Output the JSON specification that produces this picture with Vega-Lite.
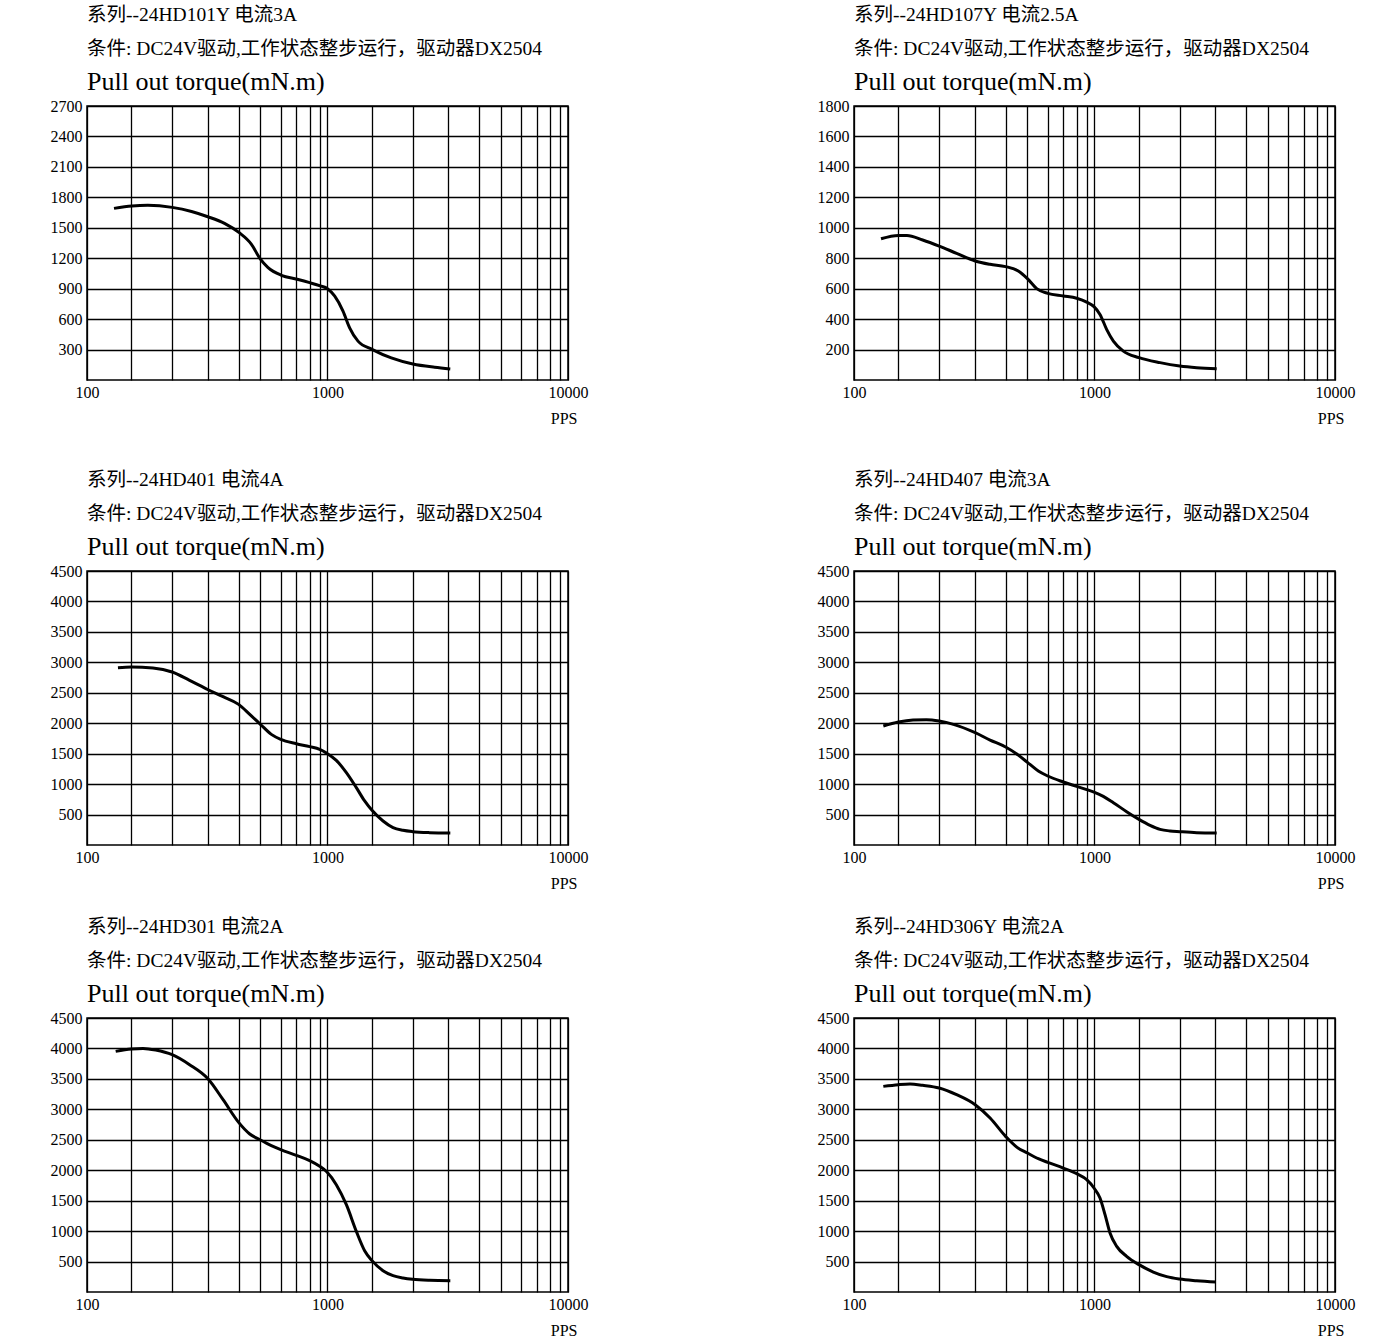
{
  "$schema": "https://vega.github.io/schema/vega-lite/v6.json",
  "background": "white",
  "padding": {"left": 49, "top": 3, "right": 5, "bottom": 0},
  "bounds": "flush",
  "columns": 2,
  "spacing": {"row": 0, "column": 286},
  "datasets": {
    "p1": [
      {"pps": 129.5, "torque": 1691}, {"pps": 153.8, "torque": 1715}, {"pps": 179, "torque": 1721}, {"pps": 226, "torque": 1701},
      {"pps": 272, "torque": 1661}, {"pps": 318, "torque": 1609}, {"pps": 373, "torque": 1543}, {"pps": 428, "torque": 1454},
      {"pps": 482, "torque": 1339}, {"pps": 526, "torque": 1191}, {"pps": 566, "torque": 1108}, {"pps": 643, "torque": 1032},
      {"pps": 748, "torque": 993}, {"pps": 843, "torque": 959}, {"pps": 933, "torque": 927}, {"pps": 1000, "torque": 900},
      {"pps": 1070, "torque": 828}, {"pps": 1160, "torque": 679}, {"pps": 1236, "torque": 514}, {"pps": 1339, "torque": 383},
      {"pps": 1538, "torque": 300}, {"pps": 1842, "torque": 218}, {"pps": 2265, "torque": 158}, {"pps": 2788, "torque": 126},
      {"pps": 3240, "torque": 109}
    ],
    "p2": [
      {"pps": 129.5, "torque": 928}, {"pps": 153, "torque": 950}, {"pps": 166, "torque": 950}, {"pps": 193, "torque": 920},
      {"pps": 226, "torque": 880}, {"pps": 267, "torque": 832}, {"pps": 319, "torque": 782}, {"pps": 368, "torque": 760},
      {"pps": 427, "torque": 745}, {"pps": 482, "torque": 716}, {"pps": 526, "torque": 666}, {"pps": 575, "torque": 600},
      {"pps": 639, "torque": 569}, {"pps": 742, "torque": 552}, {"pps": 843, "torque": 537}, {"pps": 928, "torque": 512},
      {"pps": 995, "torque": 482}, {"pps": 1054, "torque": 431}, {"pps": 1123, "torque": 333}, {"pps": 1198, "torque": 256},
      {"pps": 1318, "torque": 190}, {"pps": 1531, "torque": 147}, {"pps": 1873, "torque": 114}, {"pps": 2261, "torque": 92},
      {"pps": 2660, "torque": 81}, {"pps": 3221, "torque": 74}
    ],
    "p3": [
      {"pps": 134.5, "torque": 2912}, {"pps": 153, "torque": 2923}, {"pps": 188, "torque": 2907}, {"pps": 226, "torque": 2841},
      {"pps": 267, "torque": 2704}, {"pps": 319, "torque": 2550}, {"pps": 368, "torque": 2436}, {"pps": 427, "torque": 2310},
      {"pps": 475, "torque": 2146}, {"pps": 526, "torque": 1982}, {"pps": 584, "torque": 1817}, {"pps": 639, "torque": 1735},
      {"pps": 742, "torque": 1664}, {"pps": 843, "torque": 1615}, {"pps": 928, "torque": 1571}, {"pps": 995, "torque": 1505},
      {"pps": 1088, "torque": 1390}, {"pps": 1198, "torque": 1188}, {"pps": 1318, "torque": 942}, {"pps": 1427, "torque": 723},
      {"pps": 1531, "torque": 569}, {"pps": 1702, "torque": 394}, {"pps": 1873, "torque": 285}, {"pps": 2060, "torque": 241},
      {"pps": 2261, "torque": 219}, {"pps": 2660, "torque": 203}, {"pps": 3241, "torque": 197}
    ],
    "p4": [
      {"pps": 132.4, "torque": 1954}, {"pps": 153, "torque": 2020}, {"pps": 176, "torque": 2053}, {"pps": 200, "torque": 2058},
      {"pps": 226, "torque": 2036}, {"pps": 259, "torque": 1982}, {"pps": 319, "torque": 1845}, {"pps": 368, "torque": 1724},
      {"pps": 427, "torque": 1610}, {"pps": 475, "torque": 1495}, {"pps": 526, "torque": 1358}, {"pps": 584, "torque": 1215},
      {"pps": 639, "torque": 1133}, {"pps": 742, "torque": 1035}, {"pps": 843, "torque": 963}, {"pps": 928, "torque": 909},
      {"pps": 995, "torque": 870}, {"pps": 1088, "torque": 799}, {"pps": 1198, "torque": 695}, {"pps": 1360, "torque": 547},
      {"pps": 1531, "torque": 421}, {"pps": 1702, "torque": 323}, {"pps": 1873, "torque": 257}, {"pps": 2060, "torque": 230},
      {"pps": 2261, "torque": 219}, {"pps": 2660, "torque": 203}, {"pps": 3221, "torque": 197}
    ],
    "p5": [
      {"pps": 131.6, "torque": 3952}, {"pps": 153, "torque": 3991}, {"pps": 171, "torque": 4001}, {"pps": 193, "torque": 3974},
      {"pps": 226, "torque": 3897}, {"pps": 267, "torque": 3733}, {"pps": 319, "torque": 3498}, {"pps": 368, "torque": 3158},
      {"pps": 427, "torque": 2786}, {"pps": 475, "torque": 2595}, {"pps": 526, "torque": 2496}, {"pps": 584, "torque": 2403},
      {"pps": 639, "torque": 2337}, {"pps": 742, "torque": 2244}, {"pps": 843, "torque": 2157}, {"pps": 928, "torque": 2064},
      {"pps": 995, "torque": 1971}, {"pps": 1088, "torque": 1763}, {"pps": 1198, "torque": 1434}, {"pps": 1318, "torque": 996},
      {"pps": 1427, "torque": 679}, {"pps": 1531, "torque": 515}, {"pps": 1702, "torque": 350}, {"pps": 1873, "torque": 268},
      {"pps": 2060, "torque": 230}, {"pps": 2261, "torque": 208}, {"pps": 2660, "torque": 192}, {"pps": 3241, "torque": 186}
    ],
    "p6": [
      {"pps": 132.4, "torque": 3377}, {"pps": 153, "torque": 3405}, {"pps": 171, "torque": 3416}, {"pps": 193, "torque": 3394},
      {"pps": 226, "torque": 3350}, {"pps": 267, "torque": 3241}, {"pps": 319, "torque": 3076}, {"pps": 368, "torque": 2857},
      {"pps": 427, "torque": 2556}, {"pps": 475, "torque": 2380}, {"pps": 526, "torque": 2283}, {"pps": 584, "torque": 2190},
      {"pps": 639, "torque": 2129}, {"pps": 742, "torque": 2036}, {"pps": 843, "torque": 1943}, {"pps": 928, "torque": 1845},
      {"pps": 995, "torque": 1708}, {"pps": 1054, "torque": 1544}, {"pps": 1106, "torque": 1270}, {"pps": 1160, "torque": 969},
      {"pps": 1237, "torque": 750}, {"pps": 1360, "torque": 586}, {"pps": 1531, "torque": 449}, {"pps": 1756, "torque": 328},
      {"pps": 1996, "torque": 252}, {"pps": 2261, "torque": 213}, {"pps": 2660, "torque": 186}, {"pps": 3200, "torque": 164}
    ],
    "blank": [{"k": 1}]
  },
  "concat": [
    {
      "width": 481, "height": 274,
      "title": {"text": ["系列--24HD101Y 电流3A", "条件: DC24V驱动,工作状态整步运行，驱动器DX2504"], "subtitle": "Pull out torque(mN.m)"},
      "data": {"name": "p1"},
      "mark": {"type": "line", "interpolate": "monotone", "color": "#000", "strokeWidth": 3},
      "encoding": {
        "x": {"field": "pps", "type": "quantitative", "scale": {"type": "log", "domain": [100, 10000]},
          "axis": {"values": [100, 153, 226, 319, 427, 526, 639, 742, 843, 928, 1000, 1531, 2261, 3180, 4266, 5248, 6397, 7430, 8391, 9233, 10000], "format": "d", "labelExpr": "datum.value == 100 || datum.value == 1000 || datum.value == 10000 ? datum.label : ''", "title": "PPS"}},
        "y": {"field": "torque", "type": "quantitative", "scale": {"domain": [0, 2700]},
          "axis": {"values": [300, 600, 900, 1200, 1500, 1800, 2100, 2400, 2700], "format": "d", "title": null}}
      }
    },
    {
      "width": 481, "height": 274,
      "title": {"text": ["系列--24HD107Y 电流2.5A", "条件: DC24V驱动,工作状态整步运行，驱动器DX2504"], "subtitle": "Pull out torque(mN.m)"},
      "data": {"name": "p2"},
      "mark": {"type": "line", "interpolate": "monotone", "color": "#000", "strokeWidth": 3},
      "encoding": {
        "x": {"field": "pps", "type": "quantitative", "scale": {"type": "log", "domain": [100, 10000]},
          "axis": {"values": [100, 153, 226, 319, 427, 526, 639, 742, 843, 928, 1000, 1531, 2261, 3180, 4266, 5248, 6397, 7430, 8391, 9233, 10000], "format": "d", "labelExpr": "datum.value == 100 || datum.value == 1000 || datum.value == 10000 ? datum.label : ''", "title": "PPS"}},
        "y": {"field": "torque", "type": "quantitative", "scale": {"domain": [0, 1800]},
          "axis": {"values": [200, 400, 600, 800, 1000, 1200, 1400, 1600, 1800], "format": "d", "title": null}}
      }
    },
    {"width": 481, "height": 191, "data": {"name": "blank"}, "mark": {"type": "text"}, "encoding": {"text": {"value": ""}}, "view": {"stroke": null}},
    {"width": 481, "height": 191, "data": {"name": "blank"}, "mark": {"type": "text"}, "encoding": {"text": {"value": ""}}, "view": {"stroke": null}},
    {
      "width": 481, "height": 274,
      "title": {"text": ["系列--24HD401 电流4A", "条件: DC24V驱动,工作状态整步运行，驱动器DX2504"], "subtitle": "Pull out torque(mN.m)"},
      "data": {"name": "p3"},
      "mark": {"type": "line", "interpolate": "monotone", "color": "#000", "strokeWidth": 3},
      "encoding": {
        "x": {"field": "pps", "type": "quantitative", "scale": {"type": "log", "domain": [100, 10000]},
          "axis": {"values": [100, 153, 226, 319, 427, 526, 639, 742, 843, 928, 1000, 1531, 2261, 3180, 4266, 5248, 6397, 7430, 8391, 9233, 10000], "format": "d", "labelExpr": "datum.value == 100 || datum.value == 1000 || datum.value == 10000 ? datum.label : ''", "title": "PPS"}},
        "y": {"field": "torque", "type": "quantitative", "scale": {"domain": [0, 4500]},
          "axis": {"values": [500, 1000, 1500, 2000, 2500, 3000, 3500, 4000, 4500], "format": "d", "title": null}}
      }
    },
    {
      "width": 481, "height": 274,
      "title": {"text": ["系列--24HD407 电流3A", "条件: DC24V驱动,工作状态整步运行，驱动器DX2504"], "subtitle": "Pull out torque(mN.m)"},
      "data": {"name": "p4"},
      "mark": {"type": "line", "interpolate": "monotone", "color": "#000", "strokeWidth": 3},
      "encoding": {
        "x": {"field": "pps", "type": "quantitative", "scale": {"type": "log", "domain": [100, 10000]},
          "axis": {"values": [100, 153, 226, 319, 427, 526, 639, 742, 843, 928, 1000, 1531, 2261, 3180, 4266, 5248, 6397, 7430, 8391, 9233, 10000], "format": "d", "labelExpr": "datum.value == 100 || datum.value == 1000 || datum.value == 10000 ? datum.label : ''", "title": "PPS"}},
        "y": {"field": "torque", "type": "quantitative", "scale": {"domain": [0, 4500]},
          "axis": {"values": [500, 1000, 1500, 2000, 2500, 3000, 3500, 4000, 4500], "format": "d", "title": null}}
      }
    },
    {"width": 481, "height": 173, "data": {"name": "blank"}, "mark": {"type": "text"}, "encoding": {"text": {"value": ""}}, "view": {"stroke": null}},
    {"width": 481, "height": 173, "data": {"name": "blank"}, "mark": {"type": "text"}, "encoding": {"text": {"value": ""}}, "view": {"stroke": null}},
    {
      "width": 481, "height": 274,
      "title": {"text": ["系列--24HD301 电流2A", "条件: DC24V驱动,工作状态整步运行，驱动器DX2504"], "subtitle": "Pull out torque(mN.m)"},
      "data": {"name": "p5"},
      "mark": {"type": "line", "interpolate": "monotone", "color": "#000", "strokeWidth": 3},
      "encoding": {
        "x": {"field": "pps", "type": "quantitative", "scale": {"type": "log", "domain": [100, 10000]},
          "axis": {"values": [100, 153, 226, 319, 427, 526, 639, 742, 843, 928, 1000, 1531, 2261, 3180, 4266, 5248, 6397, 7430, 8391, 9233, 10000], "format": "d", "labelExpr": "datum.value == 100 || datum.value == 1000 || datum.value == 10000 ? datum.label : ''", "title": "PPS"}},
        "y": {"field": "torque", "type": "quantitative", "scale": {"domain": [0, 4500]},
          "axis": {"values": [500, 1000, 1500, 2000, 2500, 3000, 3500, 4000, 4500], "format": "d", "title": null}}
      }
    },
    {
      "width": 481, "height": 274,
      "title": {"text": ["系列--24HD306Y 电流2A", "条件: DC24V驱动,工作状态整步运行，驱动器DX2504"], "subtitle": "Pull out torque(mN.m)"},
      "data": {"name": "p6"},
      "mark": {"type": "line", "interpolate": "monotone", "color": "#000", "strokeWidth": 3},
      "encoding": {
        "x": {"field": "pps", "type": "quantitative", "scale": {"type": "log", "domain": [100, 10000]},
          "axis": {"values": [100, 153, 226, 319, 427, 526, 639, 742, 843, 928, 1000, 1531, 2261, 3180, 4266, 5248, 6397, 7430, 8391, 9233, 10000], "format": "d", "labelExpr": "datum.value == 100 || datum.value == 1000 || datum.value == 10000 ? datum.label : ''", "title": "PPS"}},
        "y": {"field": "torque", "type": "quantitative", "scale": {"domain": [0, 4500]},
          "axis": {"values": [500, 1000, 1500, 2000, 2500, 3000, 3500, 4000, 4500], "format": "d", "title": null}}
      }
    }
  ],
  "config": {
    "font": "Liberation Serif",
    "view": {"stroke": "#000", "strokeWidth": 1.5},
    "axis": {
      "domain": false, "ticks": false, "grid": true, "gridColor": "#000", "gridOpacity": 1, "gridWidth": 1.3,
      "labelColor": "#000", "labelFont": "Liberation Serif", "labelFontSize": 16, "labelFlush": false, "labelOverlap": false, "labelPadding": 5
    },
    "axisX": {"labelPadding": 4, "titleFont": "Liberation Serif", "titleFontSize": 16, "titleFontWeight": "normal", "titleColor": "#000", "titleAlign": "right", "titleAnchor": "end", "titleX": 490, "titleY": 38, "titleBaseline": "middle"},
    "title": {
      "anchor": "start", "frame": "group", "font": "Liberation Serif, Noto Sans CJK SC", "fontSize": 19.5, "fontWeight": "normal", "color": "#000", "lineHeight": 34,
      "subtitleFont": "Liberation Serif", "subtitleFontSize": 26, "subtitleColor": "#000", "subtitlePadding": 10, "offset": 2
    }
  }
}
